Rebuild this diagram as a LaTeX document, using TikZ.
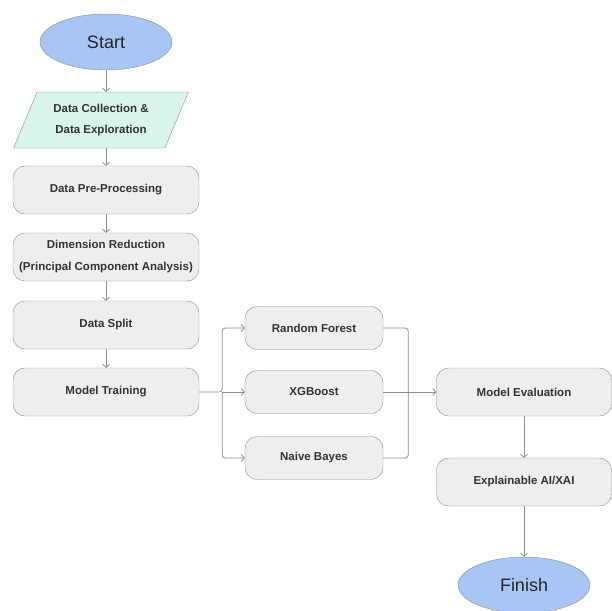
\documentclass[tikz,border=0pt]{standalone}
\usepackage{fontspec}
\setmainfont{Liberation Sans}
\usetikzlibrary{arrows.meta, positioning, shapes.geometric}
\definecolor{boxgray}{HTML}{EEEEF0}
\definecolor{linegray}{HTML}{8C8C8C}
\definecolor{startblue}{HTML}{A9C5F6}
\definecolor{mintgreen}{HTML}{D7F5EA}

\begin{document}
\begin{tikzpicture}[x=1pt,y=1pt,>={Straight Barb[length=3pt,width=7pt]},node distance=67pt,on grid,
  terminal/.style={ellipse, draw=linegray, fill=startblue, minimum width=132pt, minimum height=56pt,
    text=black!85, font=\fontsize{18}{20}\selectfont},
  iobox/.style={trapezium, trapezium left angle=64, trapezium right angle=116, trapezium stretches=true,
    draw=linegray, fill=mintgreen, minimum width=175pt, minimum height=56pt, align=center,
    font=\bfseries\fontsize{11.5}{21}\selectfont, text=black!80},
  procbox/.style={rectangle, rounded corners=12pt, draw=linegray, fill=boxgray, minimum width=186pt,
    minimum height=48pt, align=center, font=\bfseries\fontsize{11.5}{22}\selectfont, text=black!80},
  modelbox/.style={procbox, minimum width=138pt, minimum height=43pt},
  flow/.style={->, draw=linegray, line width=0.8pt, rounded corners=3pt}]

\useasboundingbox (0,0) rectangle (612,-610);

    \node[terminal] (start) at (106,-42) {Start};
    \node[iobox] (collect) [below=78pt of start, xshift=-5pt] {Data Collection \&\\Data Exploration};
    \node[procbox] (prep) [below=148pt of start] {Data Pre-Processing};
    \node[procbox] (pca) [below=of prep] {Dimension Reduction\\(Principal Component Analysis)};
    \node[procbox] (split) [below=68pt of pca] {Data Split};
    \node[procbox] (train) [below=of split] {Model Training};

    \node[modelbox] (xgb) [right=208pt of train] {XGBoost};
    \node[modelbox] (rf) [above=64pt of xgb] {Random Forest};
    \node[modelbox] (nb) [below=66pt of xgb] {Naive Bayes};

    \node[procbox, minimum width=175pt] (eval) [right=210pt of xgb] {Model Evaluation};
    \node[procbox, minimum width=175pt] (xai) [below=90pt of eval] {Explainable AI/XAI};
    \node[terminal] (finish) [below=103pt of xai] {Finish};

    \node[coordinate, right=23pt of train.east] (fork) {};
    \node[coordinate, right=25pt of xgb.east] (join) {};

    \draw[flow] (start) -- (start |- collect.north);
    \draw[flow] (start |- collect.south) -- (prep);
    \draw[flow] (prep) -- (pca);
    \draw[flow] (pca) -- (split);
    \draw[flow] (split) -- (train);

    \draw[flow] (train.east) -- (fork) |- (rf.west);
    \draw[flow] (fork) -- (xgb.west);
    \draw[flow] (fork) |- (nb.west);
    \draw[flow, -] (rf.east) -| (join);
    \draw[flow, -] (nb.east) -| (join);
    \draw[flow] (xgb.east) -- (eval.west);

    \draw[flow] (eval) -- (xai);
    \draw[flow] (xai) -- (finish);

\end{tikzpicture}
\end{document}
